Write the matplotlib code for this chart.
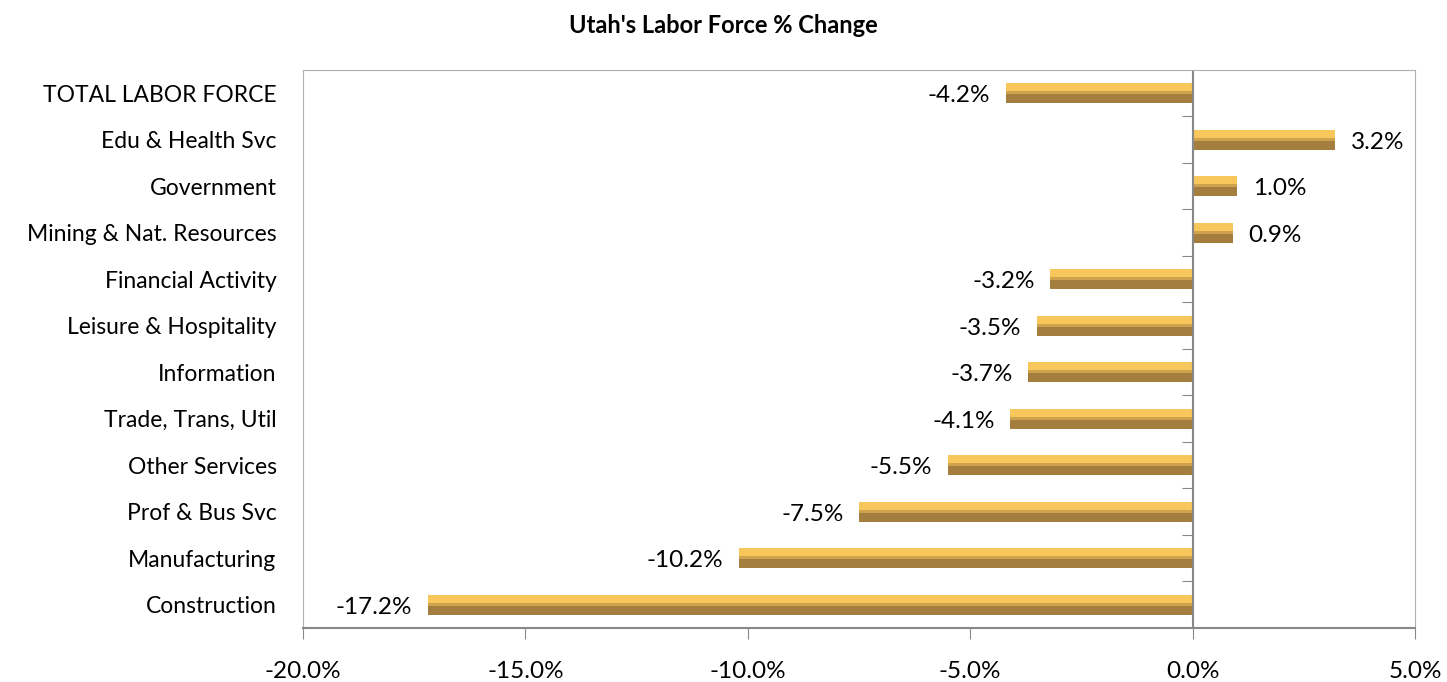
import numpy as np
import matplotlib.pyplot as plt
from matplotlib.ticker import FuncFormatter

plt.rcParams['font.family'] = ['Lato', 'DejaVu Sans']

# data (top to bottom as shown)
categories = ['TOTAL LABOR FORCE', 'Edu & Health Svc', 'Government', 'Mining & Nat. Resources',
              'Financial Activity', 'Leisure & Hospitality', 'Information', 'Trade, Trans, Util',
              'Other Services', 'Prof & Bus Svc', 'Manufacturing', 'Construction']
pct_change = [-4.2, 3.2, 1.0, 0.9, -3.2, -3.5, -3.7, -4.1, -5.5, -7.5, -10.2, -17.2]
x_ticks = [-20, -15, -10, -5, 0, 5]

fig = plt.figure(figsize=(14.47, 6.82), dpi=100)
ax = fig.add_axes([0.2094, 0.0792, 0.7685, 0.8182])

y = np.arange(len(categories))[::-1]
vals = np.array(pct_change)
h = 0.43

# bevelled look: light top band, darker bottom band
ax.barh(y + h / 4, vals, height=h / 2, color='#F8C75C', edgecolor='none')
ax.barh(y - h / 4, vals, height=h / 2, color='#A47E3E', edgecolor='none')
ax.barh(y + h * 0.02, vals, height=h * 0.14, color='#CFA24E', edgecolor='none')

for yi, v in zip(y, vals):
    if v < 0:
        ax.text(v - 0.35, yi - 0.05, f'{v:.1f}%', ha='right', va='center', fontsize=17.5)
    else:
        ax.text(v + 0.35, yi - 0.05, f'{v:.1f}%', ha='left', va='center', fontsize=17.5)

ax.set_xlim(-20, 5)
ax.set_ylim(-0.5, len(categories) - 0.5)
ax.set_xticks(x_ticks)
ax.xaxis.set_major_formatter(FuncFormatter(lambda v, p: f'{v:.1f}%'))
ax.tick_params(axis='x', labelsize=17.5, length=8, color='#888888', pad=16)

ax.set_yticks(y)
ax.set_yticklabels(categories, fontsize=16.5)
ax.tick_params(axis='y', length=0, pad=19)

for side in ['top', 'right', 'left']:
    ax.spines[side].set_color('#B0B0B0')
ax.spines['bottom'].set_color('#888888')
ax.spines['bottom'].set_linewidth(1.5)

# category axis crossing at 0
ax.axvline(0, color='#888888', linewidth=1.5)
sec = ax.secondary_yaxis(0.8)
sec.set_yticks(np.arange(len(categories) - 1) + 0.5)
sec.set_yticklabels([])
sec.tick_params(axis='y', length=8, color='#888888', direction='out', left=True, right=False)
for s in sec.spines.values():
    s.set_visible(False)

fig.suptitle("Utah's Labor Force % Change", fontsize=17, fontweight='bold', y=0.98)

plt.savefig('out.png', dpi=100)
